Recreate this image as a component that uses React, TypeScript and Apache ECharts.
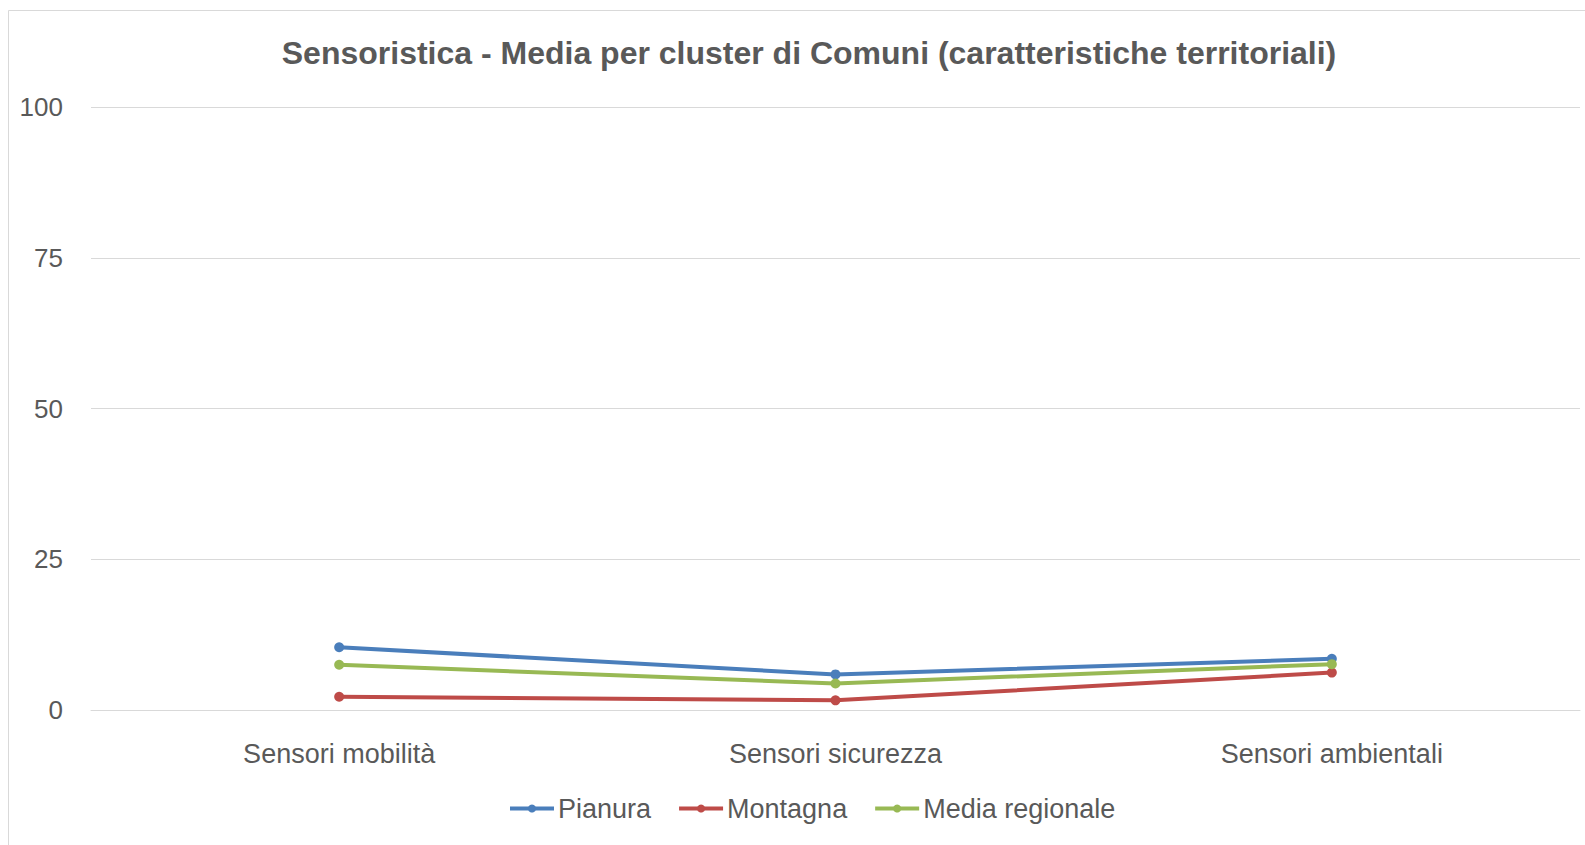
import React, { useEffect, useRef } from "react";
import * as echarts from "echarts";

const categories = ["Sensori mobilità", "Sensori sicurezza", "Sensori ambientali"];
const pianura = [10.4, 5.9, 8.5];
const montagna = [2.2, 1.6, 6.2];
const mediaRegionale = [7.5, 4.4, 7.6];
const yTicks = [0, 25, 50, 75, 100];

const TEXT = "#595959";
const FONT = "'Liberation Sans', Arial, sans-serif";

export default function App() {
  const ref = useRef<HTMLDivElement>(null);
  useEffect(() => {
    if (!ref.current) return;
    const chart = echarts.init(ref.current, null, { renderer: "svg" });
    const mk = (name: string, data: number[], color: string) => ({
      name,
      type: "line",
      data,
      symbol: "circle",
      symbolSize: 10,
      lineStyle: { width: 4, color },
      itemStyle: { color },
      emphasis: { disabled: true },
    });
    chart.setOption({
      animation: false,
      textStyle: { fontFamily: FONT },
      graphic: [
        {
          type: "rect",
          shape: { x: 8.5, y: 10.5, width: 1700, height: 900 },
          style: { fill: "none", stroke: "#d9d9d9", lineWidth: 1 },
          silent: true,
        },
      ],
      title: {
        text: "Sensoristica - Media per cluster di Comuni (caratteristiche territoriali)",
        left: 804,
        textAlign: "center",
        top: 32,
        textStyle: { color: TEXT, fontSize: 32, fontWeight: "bold", fontFamily: FONT },
      },
      legend: {
        bottom: 18,
        left: 503,
        itemWidth: 44,
        itemHeight: 10,
        itemGap: 26,
        lineStyle: { width: 4 },
        textStyle: { color: TEXT, fontSize: 27, fontFamily: FONT, padding: [0, 0, 0, -1] },
        data: ["Pianura", "Montagna", "Media regionale"],
      },
      grid: { left: 91, right: 5, top: 107, bottom: 135, containLabel: false },
      xAxis: {
        type: "category",
        data: categories,
        boundaryGap: true,
        axisLine: { show: true, lineStyle: { color: "#d9d9d9", width: 1 } },
        axisTick: { show: false },
        axisLabel: { color: TEXT, fontSize: 27, margin: 30, fontFamily: FONT },
      },
      yAxis: {
        type: "value",
        min: yTicks[0],
        max: yTicks[yTicks.length - 1],
        interval: 25,
        axisLine: { show: false },
        axisTick: { show: false },
        splitLine: { lineStyle: { color: "#d9d9d9", width: 1 } },
        axisLabel: { color: TEXT, fontSize: 26, margin: 28, fontFamily: FONT },
      },
      series: [
        mk("Pianura", pianura, "#4a7ebb"),
        mk("Montagna", montagna, "#be4b48"),
        mk("Media regionale", mediaRegionale, "#98b954"),
      ],
    });
    return () => chart.dispose();
  }, []);
  return (
    <div
      ref={ref}
      style={{ position: "fixed", left: 0, top: 0, width: 1585, height: 845, background: "#fff" }}
    />
  );
}
